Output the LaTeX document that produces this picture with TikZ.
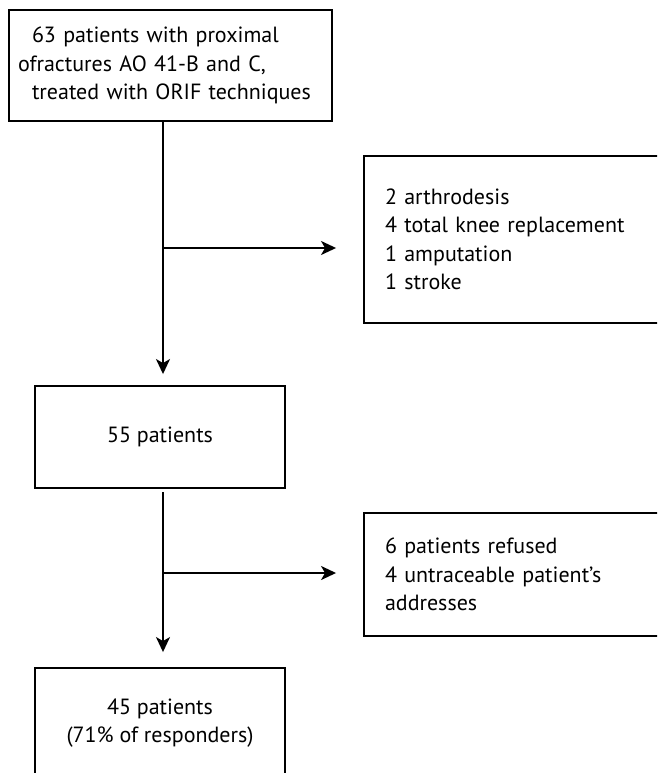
\documentclass[tikz,border=0pt]{standalone}
\usepackage{fontspec}
\setmainfont{PT Sans}
\usetikzlibrary{arrows.meta}
\begin{document}
\begin{tikzpicture}[x=1pt,y=-1pt,
  box/.style={draw, line width=1.9pt, inner sep=0pt, font=\fontsize{22}{28.5}\selectfont},
  link/.style={line width=1.9pt},
  arr/.style={line width=1.9pt, -{Stealth[length=15pt,width=14pt,inset=4pt]}}]
\useasboundingbox (0,0) rectangle (657,773);
\clip (0,0) rectangle (657,773);
\node[box, minimum width=323pt, minimum height=111pt, align=left, text width=305pt, inner xsep=9pt] (top) at (170.5,65.5)
  {\hspace*{14pt}63 patients with proximal\\ofractures AO 41-B and C,\\\hspace*{14pt}treated with ORIF techniques};
\node[box, minimum width=306pt, minimum height=167pt, align=left, text width=264pt, inner xsep=21pt] (ex1) at (517,239.5)
  {2 arthrodesis\\4 total knee replacement\\1 amputation\\1 stroke};
\node[box, minimum width=250pt, minimum height=102pt, align=center] (p55) at (160,437) {55 patients};
\node[box, minimum width=306pt, minimum height=123pt, align=left, text width=264pt, inner xsep=21pt] (ex2) at (517,574.5)
  {6 patients refused\\4 untraceable patient’s\\addresses};
\node[box, minimum width=250pt, minimum height=110pt, align=center] (p45) at (160,723) {45 patients\\(71\% of responders)};
\coordinate (j1) at (163,248);
\coordinate (j2) at (163,573);
\coordinate (s2) at (163,492);
\draw[link] (top.south -| j1) -- (j1);
\draw[arr, shorten >=11pt] (j1) -- (p55.north -| j1);
\draw[arr, shorten >=27pt] (j1) -- (ex1.west |- j1);
\draw[link] (s2) -- (j2);
\draw[arr, shorten >=15pt] (j2) -- (p45.north -| j2);
\draw[arr, shorten >=27pt] (j2) -- (ex2.west |- j2);
\end{tikzpicture}
\end{document}
